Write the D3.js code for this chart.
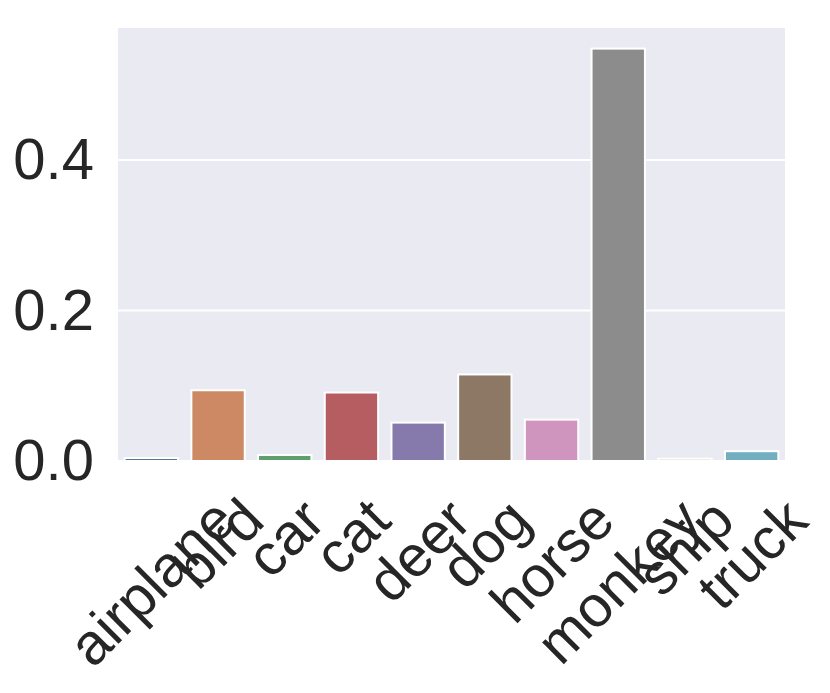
<!DOCTYPE html>
<html>
<head>
<meta charset="utf-8">
<script src="https://cdn.jsdelivr.net/npm/d3@7"></script>
<style>
  html, body { margin: 0; padding: 0; background: #ffffff; }
  svg { display: block; }
</style>
</head>
<body>
<svg id="chart" width="830" height="693"></svg>
<script>
const categories = ["airplane", "bird", "car", "cat", "deer", "dog", "horse", "monkey", "ship", "truck"];
const values = [0.004, 0.094, 0.008, 0.091, 0.051, 0.115, 0.055, 0.548, 0.003, 0.013];
const barColors = ["#5875a4", "#cc8963", "#5f9e6e", "#b55d60", "#857aab", "#8d7866", "#d095bf", "#8c8c8c", "#c1b37f", "#71aec0"];
const yTicks = [0.0, 0.2, 0.4];
const yTickLabels = ["0.0", "0.2", "0.4"];

const plotLeft = 118, plotRight = 785, plotTop = 28, plotBottom = 461;
const fontFamily = "'Liberation Sans', Arial, Helvetica, sans-serif";
const fontSize = 58;
const textColor = "#262626";

const svg = d3.select("#chart");

const x = d3.scaleBand().domain(categories).range([plotLeft, plotRight]).paddingInner(0.2).paddingOuter(0.1);
const y = d3.scaleLinear().domain([0, 0.5754]).range([plotBottom, plotTop]);

// plot background
svg.append("rect").attr("x", plotLeft).attr("y", plotTop).attr("width", plotRight - plotLeft).attr("height", plotBottom - plotTop).attr("fill", "#eaeaf2");

// grid lines
svg.append("g").selectAll("line").data(yTicks).join("line")
  .attr("x1", plotLeft).attr("x2", plotRight)
  .attr("y1", d => y(d)).attr("y2", d => y(d))
  .attr("stroke", "#ffffff").attr("stroke-width", 2);

// bars
svg.append("g").selectAll("rect").data(categories).join("rect")
  .attr("x", d => x(d))
  .attr("width", x.bandwidth())
  .attr("y", (d, i) => y(values[i]))
  .attr("height", (d, i) => y(0) - y(values[i]))
  .attr("fill", (d, i) => barColors[i])
  .attr("stroke", "#ffffff").attr("stroke-width", 2);

// y axis
const gy = svg.append("g").attr("transform", `translate(${plotLeft},0)`)
  .call(d3.axisLeft(y).tickValues(yTicks).tickFormat((d, i) => yTickLabels[i]).tickSize(0).tickPadding(24));
gy.select(".domain").remove();
gy.selectAll("text").attr("font-family", fontFamily).attr("font-size", fontSize).attr("fill", textColor);

// x axis with rotated labels (matplotlib-like: rotated bbox centered under tick)
const gx = svg.append("g").attr("transform", `translate(0,${plotBottom})`)
  .call(d3.axisBottom(x).tickSize(0).tickPadding(0));
gx.select(".domain").remove();
const labelPad = 25;
gx.selectAll("text")
  .attr("font-family", fontFamily).attr("font-size", fontSize).attr("fill", textColor)
  .attr("text-anchor", "middle").attr("dy", null).attr("y", 0)
  .each(function() {
    const t = d3.select(this);
    const bb = this.getBBox();
    const w = bb.width, h = bb.height;
    const half = (w + h) * Math.SQRT1_2 / 2;
    const cy = labelPad + half;
    const shift = cy - (bb.y + bb.height / 2);
    t.attr("y", shift).attr("transform", `rotate(-45,0,${cy})`);
  });
</script>
</body>
</html>
